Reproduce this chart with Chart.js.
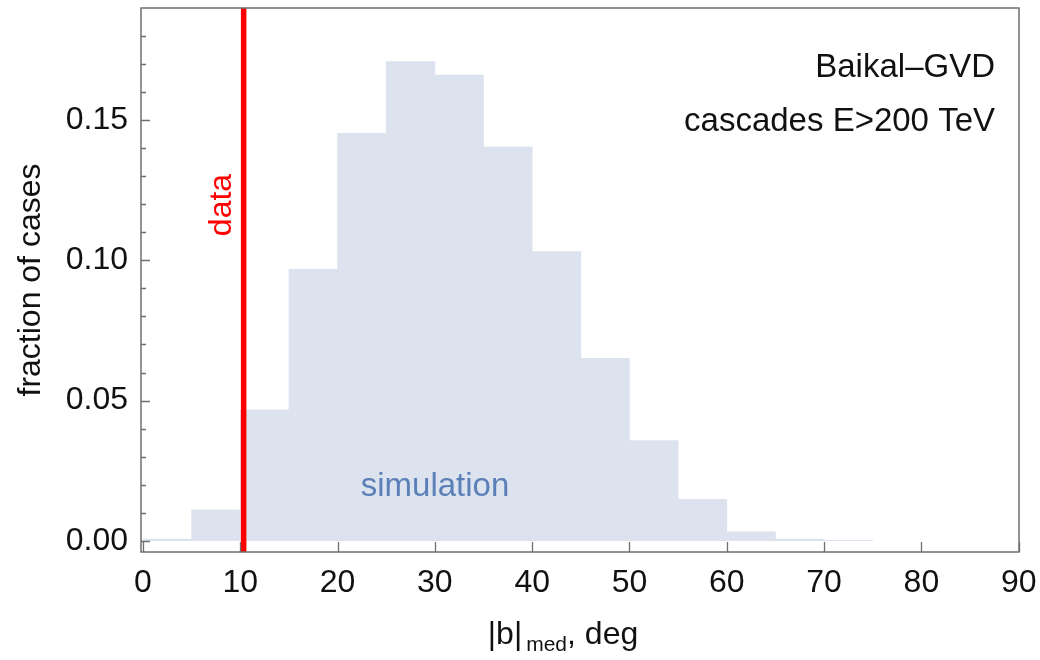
<!DOCTYPE html>
<html>
<head>
<meta charset="utf-8">
<script src="https://cdn.jsdelivr.net/npm/chart.js@4/dist/chart.umd.min.js"></script>
<style>
  html, body { margin: 0; padding: 0; background: #ffffff; }
  #wrap { width: 1040px; height: 660px; position: relative; }
</style>
</head>
<body>
<div id="wrap"><canvas id="c" width="1040" height="660"></canvas></div>
<script>
// ---- data ----
const binStarts = [0, 5, 10, 15, 20, 25, 30, 35, 40, 45, 50, 55, 60, 65, 70];
const binWidth = 5;
const fractions = [0.0006, 0.0110, 0.0467, 0.0968, 0.1453, 0.1709, 0.1661, 0.1405, 0.1031, 0.0651, 0.0357, 0.0148, 0.0032, 0.0006, 0.0002];
const dataValue = 10.35;
const xTicks = [0, 10, 20, 30, 40, 50, 60, 70, 80, 90];
const yTicks = [0, 0.05, 0.10, 0.15];
const yMinorTicks = [0.01, 0.02, 0.03, 0.04, 0.06, 0.07, 0.08, 0.09, 0.11, 0.12, 0.13, 0.14, 0.16, 0.17, 0.18];
const xRange = [-0.2, 90.03];
const yRange = [-0.004, 0.19];
const labels = {
  title1: 'Baikal\u2013GVD',
  title2: 'cascades E>200 TeV',
  sim: 'simulation',
  data: 'data',
  yTitle: 'fraction of cases',
  xTitleMain: '|b|',
  xTitleSub: 'med',
  xTitleEnd: ', deg'
};

const FONT = "'Liberation Sans', Arial, Helvetica, sans-serif";
const FRAME = '#6f6f6f';

const barData = binStarts.map((s, i) => ({ x: s + binWidth / 2, y: fractions[i] }));
const lineData = [{ x: dataValue, y: yRange[0] }, { x: dataValue, y: yRange[1] }];

function zeroPad(scale) {
  scale.paddingTop = 0; scale.paddingBottom = 0;
  scale.paddingLeft = 0; scale.paddingRight = 0;
}

const framePlugin = {
  id: 'framePlugin',
  afterDraw(chart) {
    const ctx = chart.ctx;
    const a = chart.chartArea;
    const xs = chart.scales.x, ys = chart.scales.y;
    ctx.save();
    // frame
    ctx.strokeStyle = FRAME;
    ctx.lineWidth = 1.5;
    ctx.strokeRect(a.left, a.top, a.right - a.left, a.bottom - a.top);
    // ticks (inward)
    ctx.lineWidth = 1.3;
    ctx.beginPath();
    xTicks.forEach(v => {
      const px = Math.round(xs.getPixelForValue(v)) + 0.5;
      ctx.moveTo(px, a.bottom);
      ctx.lineTo(px, a.bottom - 10);
    });
    yTicks.forEach(v => {
      const py = Math.round(ys.getPixelForValue(v)) + 0.5;
      ctx.moveTo(a.left, py);
      ctx.lineTo(a.left + 9, py);
    });
    yMinorTicks.forEach(v => {
      const py = Math.round(ys.getPixelForValue(v)) + 0.5;
      ctx.moveTo(a.left, py);
      ctx.lineTo(a.left + 5, py);
    });
    ctx.stroke();

    // annotations
    ctx.fillStyle = '#111111';
    ctx.font = '33px ' + FONT;
    ctx.textAlign = 'right';
    ctx.textBaseline = 'middle';
    ctx.fillText(labels.title1, a.right - 24, 68);
    ctx.fillText(labels.title2, a.right - 24, 122);

    ctx.fillStyle = '#5b80b8';
    ctx.textAlign = 'center';
    ctx.fillText(labels.sim, 435, 487);

    // data label (rotated)
    const lx = xs.getPixelForValue(dataValue);
    ctx.save();
    ctx.translate(lx - 21, 205);
    ctx.rotate(-Math.PI / 2);
    ctx.fillStyle = '#ff0000';
    ctx.font = '32px ' + FONT;
    ctx.textAlign = 'center';
    ctx.textBaseline = 'middle';
    ctx.fillText(labels.data, 0, 0);
    ctx.restore();

    // y title
    ctx.save();
    ctx.translate(31, (a.top + a.bottom) / 2);
    ctx.rotate(-Math.PI / 2);
    ctx.fillStyle = '#111111';
    ctx.font = '32px ' + FONT;
    ctx.textAlign = 'center';
    ctx.textBaseline = 'middle';
    ctx.fillText(labels.yTitle, 0, 0);
    ctx.restore();

    // x title with subscript
    ctx.fillStyle = '#111111';
    ctx.textAlign = 'left';
    ctx.textBaseline = 'alphabetic';
    const bigF = '32px ' + FONT, smallF = '21px ' + FONT;
    ctx.font = bigF; const w1 = ctx.measureText(labels.xTitleMain).width;
    ctx.font = smallF; const w2 = ctx.measureText(labels.xTitleSub).width;
    ctx.font = bigF; const w3 = ctx.measureText(labels.xTitleEnd).width;
    const gap = 4;
    const total = w1 + gap + w2 + w3;
    let x0 = 563 - total / 2;
    const base = 644;
    ctx.font = bigF; ctx.fillText(labels.xTitleMain, x0, base);
    x0 += w1 + gap;
    ctx.font = smallF; ctx.fillText(labels.xTitleSub, x0, base + 7);
    x0 += w2;
    ctx.font = bigF; ctx.fillText(labels.xTitleEnd, x0, base);
    ctx.restore();
  }
};

new Chart(document.getElementById('c'), {
  type: 'bar',
  data: {
    datasets: [
      {
        type: 'line',
        data: lineData,
        borderColor: '#ff0000',
        borderWidth: 5.5,
        pointRadius: 0,
        order: 0,
        clip: 4
      },
      {
        type: 'bar',
        data: barData,
        backgroundColor: '#dde3ee',
        borderWidth: 0,
        barPercentage: 1,
        categoryPercentage: 1,
        order: 1
      }
    ]
  },
  options: {
    responsive: false,
    animation: false,
    events: [],
    layout: { padding: { left: 0, top: 8, right: 21, bottom: 0 }, autoPadding: false },
    plugins: { legend: { display: false }, tooltip: { enabled: false } },
    scales: {
      x: {
        type: 'linear',
        min: xRange[0],
        max: xRange[1],
        offset: false,
        grid: { display: false, drawTicks: false, offset: false },
        border: { display: false },
        afterBuildTicks(scale) { scale.ticks = xTicks.map(v => ({ value: v })); },
        afterFit(scale) { scale.height = 108; zeroPad(scale); },
        ticks: {
          color: '#111111',
          font: { family: FONT, size: 32 },
          padding: 12,
          maxRotation: 0,
          autoSkip: false,
          callback: v => String(v)
        }
      },
      y: {
        type: 'linear',
        min: yRange[0],
        max: yRange[1],
        grid: { display: false, drawTicks: false },
        border: { display: false },
        afterBuildTicks(scale) { scale.ticks = yTicks.map(v => ({ value: v })); },
        afterFit(scale) { scale.width = 141; zeroPad(scale); },
        ticks: {
          color: '#111111',
          font: { family: FONT, size: 32 },
          padding: 13,
          autoSkip: false,
          callback: v => Number(v).toFixed(2)
        }
      }
    }
  },
  plugins: [framePlugin]
});
</script>
</body>
</html>
